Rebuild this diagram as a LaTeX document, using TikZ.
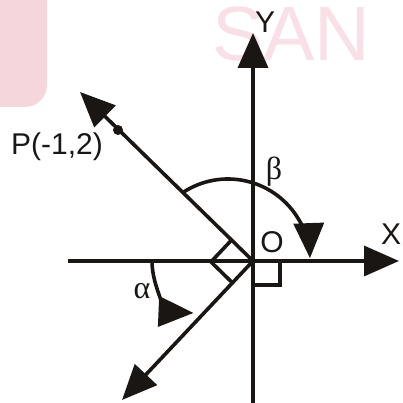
\documentclass[tikz,border=0pt]{standalone}
\usepackage{fontspec}
\setmainfont{Liberation Sans}
\newfontfamily\grk{Liberation Serif}
\usetikzlibrary{arrows.meta,calc}
\definecolor{wmfill}{RGB}{245,214,220}
\definecolor{wmtext}{RGB}{248,224,230}
\definecolor{ink}{RGB}{25,22,20}
\begin{document}
\begin{tikzpicture}[x=1pt,y=1pt,
  ln/.style={line width=3.6pt, draw=ink},
  arr/.style={ln,-{Triangle[length=35pt,width=30pt]}},
  lbl/.style={font=\fontsize{30}{30}\selectfont, text=ink, inner sep=0pt},
  glbl/.style={font=\grk\fontsize{32}{32}\selectfont, text=ink, inner sep=0pt},
  wmark/.style={font=\fontsize{77}{77}\selectfont, text=wmtext, inner sep=0pt}]
\useasboundingbox (0,0) rectangle (402,403);
% watermark
\fill[wmfill, rounded corners=22pt] (-40,440) rectangle (47,296);
\node[wmark, anchor=base west] (wm) at (212,342) {SAN};
% points
\coordinate (O) at (253,142);
\coordinate (xl) at (68,142);
\coordinate (xr) at (399,142);
\coordinate (yb) at (253,-3);
\coordinate (yt) at (253,370);
\coordinate (A) at (80,311);
\coordinate (B) at (122,3);
% axes and rays
\draw[arr] (xl) -- (xr);
\draw[arr] (yb) -- (yt);
\draw[arr] (O) -- (A);
\draw[arr] (O) -- (B);
\node[circle, fill=ink, inner sep=0pt, minimum size=10pt] (P) at (118,273) {};
% right angle markers
\coordinate (m1) at ($(O)!30pt!(A)$);
\coordinate (m3) at ($(O)!30pt!(B)$);
\draw[ln] (m1) -- ($(m1)+(m3)-(O)$) -- (m3);
\draw[ln] ($(O)+(27,0)$) -- ($(O)+(27,-24)$) -- ($(O)+(0,-24)$);
% angle arcs
\draw[arr] (228,142) ++(123:82) arc[start angle=123, end angle=2, radius=82];
\draw[arr] (152,142) arc[start angle=180, end angle=268, x radius=43, y radius=52];
% labels
\node[lbl] (ly) at (265,381) {Y};
\node[lbl] (lx) at (391,169) {X};
\node[lbl] (lo) at (272,161) {O};
\node[lbl] (lp) at (57,256) {P(-1,2)};
\node[glbl] (lb) at (274,231) {β};
\node[glbl] (la) at (142,112) {α};
\end{tikzpicture}
\end{document}
